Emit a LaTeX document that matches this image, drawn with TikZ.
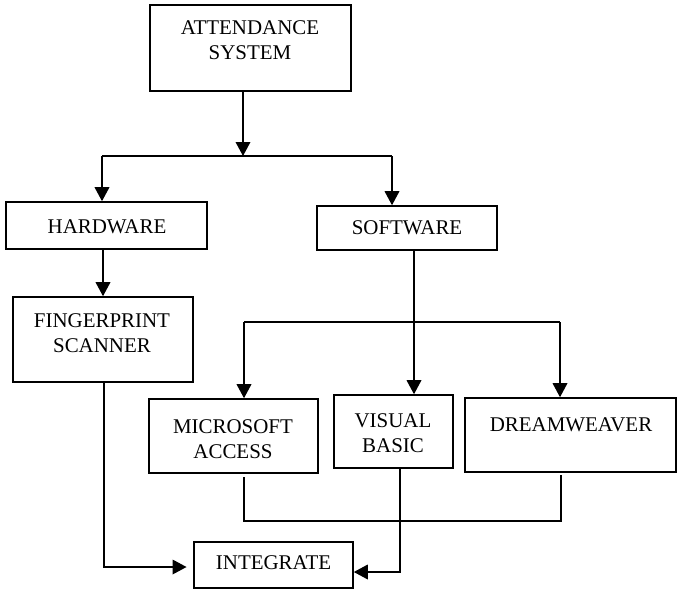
\documentclass[tikz,border=0pt]{standalone}
\usepackage{fontspec}
\setmainfont{Liberation Serif}
\usetikzlibrary{arrows.meta,fit}
\begin{document}
\begin{tikzpicture}[x=0.75pt,y=-0.75pt,
  box/.style={draw,line width=1.2pt,inner sep=0pt,rectangle},
  lbl/.style={font=\fontsize{15.7}{18.75}\selectfont,align=center,anchor=base,inner sep=0pt},
  conn/.style={line width=1pt},
  arr/.style={conn,-{Triangle[length=10.5pt,width=11pt]}}]
\useasboundingbox (0,0) rectangle (677,589);
% boxes
\node[box,fit={(150,5)(351,91)}] (as) {};
\node[box,fit={(6,202)(207,249)}] (hw) {};
\node[box,fit={(317,206)(497,250)}] (sw) {};
\node[box,fit={(13,297)(193,382)}] (fp) {};
\node[box,fit={(149,399)(318,473)}] (ma) {};
\node[box,fit={(334,395)(453,468)}] (vb) {};
\node[box,fit={(465,398)(676,472)}] (dw) {};
\node[box,fit={(194,542)(353,588)}] (in) {};
% labels (base = last line baseline)
\node[lbl] (astxt) at (250,59) {ATTENDANCE\\SYSTEM};
\node[lbl] (hwtxt) at (107,233) {HARDWARE};
\node[lbl] (swtxt) at (407,234) {SOFTWARE};
\node[lbl] (fptxt) at (102,352) {FINGERPRINT\\SCANNER};
\node[lbl] (matxt) at (233,458) {MICROSOFT\\ACCESS};
\node[lbl] (vbtxt) at (393,452) {VISUAL\\BASIC};
\node[lbl] (dwtxt) at (571,431) {DREAMWEAVER};
\node[lbl] (intxt) at (273.5,569) {INTEGRATE};
% junction coordinates
\coordinate (j1) at (243,156);
\coordinate (jl) at (102,156);
\coordinate (jr) at (392,156);
\coordinate (c1) at (103,0);
\coordinate (c2) at (414,0);
\coordinate (j2l) at (244,322);
\coordinate (j2r) at (560,322);
\coordinate (b1) at (244,477);
\coordinate (b2) at (244,521);
\coordinate (b3) at (561,521);
\coordinate (b4) at (561,475);
\coordinate (f1) at (104,567);
\coordinate (v1) at (400,572);
% connectors
\draw[arr] (as.south -| j1) -- (j1);
\draw[conn] (jl) -- (jr);
\draw[arr] (jl) -- (jl |- hw.north);
\draw[arr] (jr) -- (jr |- sw.north);
\draw[arr] (hw.south -| c1) -- (fp.north -| c1);
\draw[arr] (sw.south -| c2) -- (vb.north -| c2);
\draw[conn] (j2l) -- (j2r);
\draw[arr] (j2l) -- (j2l |- ma.north);
\draw[arr] (j2r) -- (j2r |- dw.north);
\draw[conn] (b1) -- (b2) -- (b3) -- (b4);
\draw[arr,shorten >=5pt] (fp.south -| f1) -- (f1) -- (in.west |- f1);
\draw[arr] (vb.south -| v1) -- (v1) -- (in.east |- v1);
\end{tikzpicture}
\end{document}
